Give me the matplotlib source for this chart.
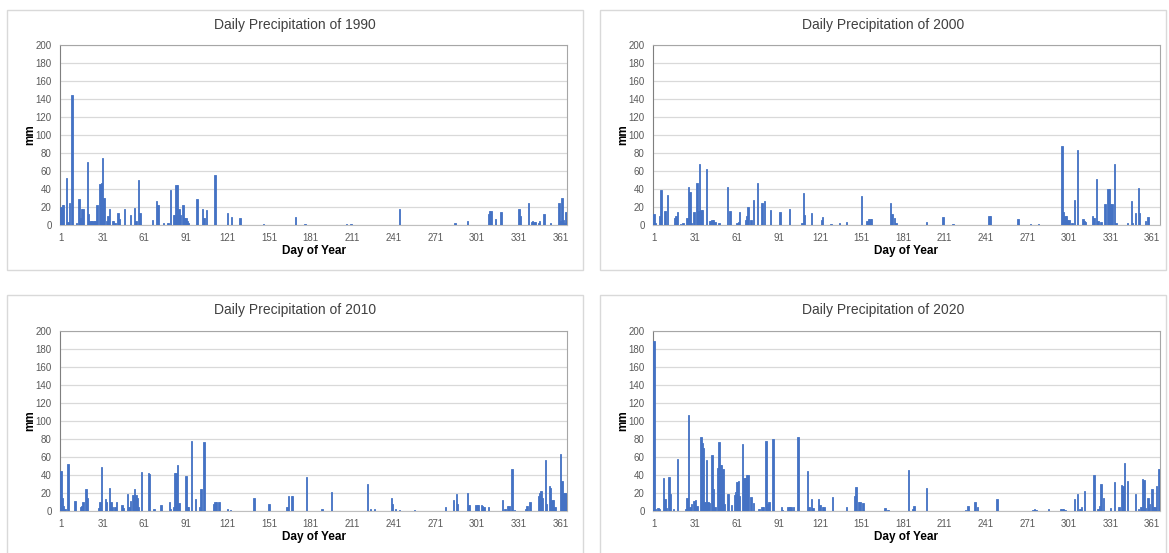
import numpy as np
import matplotlib
matplotlib.use('Agg')
from matplotlib import pyplot as plt
from matplotlib.patches import Rectangle

# daily precipitation (mm), days not listed are dry (0)
DAYS_1990 = [1,2,3,5,6,7,9,12,14,15,16,17,20,21,22,23,24,25,26,27,29,30,31,32,34,35,36,38,39,40,42,43,47,51,54,55,57,58,67,70,71,75,78,80,82,83,84,85,86,87,89,90,91,92,93,99,103,104,106,112,121,124,130,147,170,177,207,210,245,285,294,309,310,311,314,318,331,332,338,340,341,342,343,345,346,349,354,360,361,362,363,364,365]
MM_1990 = [20,22,22,52,3,25,144,2,29,8,18,18,70,12,5,4,4,4,4,22,46,47,74,30,5,10,18,5,4,2,13,7,18,11,19,5,50,13,6,27,22,2,2,39,11,11,45,45,18,11,22,8,8,4,2,29,18,8,17,56,13,9,8,1,9,1,1,1,18,2,5,12,16,16,7,14,18,10,24,3,4,3,3,2,4,12,2,24,4,30,6,2,14]

DAYS_2000 = [1,2,5,6,9,11,16,17,18,20,22,25,26,27,28,30,32,33,34,35,36,39,41,42,43,44,45,48,54,56,61,62,63,67,68,69,71,73,76,79,81,85,92,99,108,109,110,115,122,123,129,135,140,151,155,156,157,158,172,173,175,176,198,210,217,243,244,264,273,279,296,297,298,299,300,301,303,305,307,311,312,313,318,319,321,322,324,327,329,330,331,332,334,335,343,346,347,349,351,352,356,358]
MM_2000 = [12,2,10,39,16,33,8,10,14,1,2,8,42,37,2,15,47,16,68,17,17,62,4,5,6,6,3,2,42,16,2,3,14,6,10,20,6,28,47,25,27,17,14,18,2,36,11,13,6,9,1,2,3,32,5,7,7,7,25,12,8,2,3,9,1,10,10,7,1,1,88,14,10,10,6,6,2,28,83,7,5,3,10,8,51,4,3,23,40,40,23,23,68,2,2,27,2,13,41,13,4,9]

DAYS_2010 = [1,2,3,4,6,11,15,16,17,19,20,28,29,30,33,34,36,37,38,40,41,45,46,49,50,51,53,54,55,56,57,59,64,65,68,73,79,80,82,83,84,85,86,91,92,93,95,98,101,102,104,111,112,113,115,121,123,140,151,164,165,167,168,178,189,196,222,224,227,239,240,242,245,256,278,284,286,287,294,295,300,301,302,304,305,306,309,319,321,323,324,326,328,336,337,339,345,346,347,348,350,351,353,354,355,356,357,361,362,363,364,365]
MM_2010 = [45,14,6,2,52,11,4,6,10,25,14,3,10,49,13,10,26,10,4,5,10,7,3,19,4,11,18,25,18,15,4,43,42,41,2,7,10,2,4,42,42,51,9,39,5,5,78,13,4,24,77,8,10,10,10,2,1,15,8,5,17,17,17,38,2,21,30,2,2,15,8,2,1,1,4,12,19,8,20,7,7,7,7,7,6,5,5,12,2,6,6,47,1,2,6,10,17,20,22,15,57,8,28,26,12,12,4,63,33,20,20,20]

DAYS_2020 = [1,2,4,5,8,9,10,12,13,15,18,24,25,26,27,28,30,31,32,35,36,37,38,39,40,41,43,44,45,47,48,49,50,51,52,54,55,57,59,60,61,62,63,65,66,67,68,69,71,73,77,79,80,82,83,84,87,93,94,98,99,100,102,105,112,113,115,116,120,121,123,124,130,140,146,147,149,150,152,168,170,185,188,189,198,226,228,233,235,249,275,276,277,286,295,296,297,298,305,307,309,310,312,319,322,323,324,326,331,334,337,339,340,341,343,349,351,353,354,355,356,358,359,361,362,363,364,366]
MM_2020 = [189,2,3,2,37,13,3,38,19,2,58,2,14,107,4,8,11,12,6,82,76,70,10,57,10,9,62,24,5,48,77,51,51,47,8,19,19,7,18,21,32,33,17,75,37,37,40,40,16,9,2,4,5,78,8,10,80,4,1,4,5,5,4,82,44,5,13,3,13,7,5,5,16,5,17,27,10,10,9,3,1,46,2,6,26,1,6,10,5,13,1,2,1,2,2,2,2,1,13,19,2,4,22,40,2,6,30,15,3,32,4,29,28,53,33,19,2,4,36,35,3,14,8,25,4,4,28,47]

YEARS = ['1990', '2000', '2010', '2020']
N_DAYS = [365, 366, 365, 366]
DATA = [(DAYS_1990, MM_1990), (DAYS_2000, MM_2000), (DAYS_2010, MM_2010), (DAYS_2020, MM_2020)]

W, H = 1169, 553
fig = plt.figure(figsize=(W/100, H/100), dpi=100)
plt.rcParams['font.family'] = ['Liberation Sans', 'DejaVu Sans']

# chart boxes (px): left, top, right, bottom
BOXES = [(7, 10, 583, 270), (600, 10, 1166, 270), (7, 295, 583, 560), (600, 295, 1166, 560)]
# plot areas (px)
PLOTS = [(60, 45, 567, 225), (653, 45, 1160, 225), (60, 331, 567, 511), (653, 331, 1160, 511)]

BLUE = '#4472C4'

for i in range(4):
    bl, bt, br, bb = BOXES[i]
    fig.patches.append(Rectangle((bl/W, 1-bb/H), (br-bl)/W, (bb-bt)/H, transform=fig.transFigure,
                                 fill=False, edgecolor='#d9d9d9', linewidth=1.0))
    pl, pt, pr, pb = PLOTS[i]
    ax = fig.add_axes([pl/W, 1-pb/H, (pr-pl)/W, (pb-pt)/H])
    days, mm = DATA[i]
    vals = np.zeros(N_DAYS[i])
    vals[np.array(days)-1] = mm
    x = np.arange(1, N_DAYS[i]+1)
    ax.bar(x, vals, width=1.0, color=BLUE, edgecolor=BLUE, linewidth=0.6, zorder=3)
    ax.set_xlim(0.3, N_DAYS[i]+0.7)
    ax.set_ylim(0, 200)
    ax.set_yticks(range(0, 201, 20))
    ax.set_xticks(range(1, 362, 30))
    ax.grid(axis='y', color='#d9d9d9', linewidth=0.9, zorder=0)
    ax.tick_params(length=0, labelsize=7, colors='#595959', pad=6)
    for s in ['top', 'right']:
        ax.spines[s].set_color('#a6a6a6')
    ax.spines['left'].set_color('#7f7f7f')
    ax.spines['bottom'].set_color('#bfbfbf')
    cx = (bl+br)/2
    fig.text(cx/W, 1-(bt+15)/H, 'Daily Precipitation of ' + YEARS[i], ha='center', va='center',
             fontsize=10, color='#404040')
    fig.text((pl+pr)/2/W, 1-(pb+26)/H, 'Day of Year', ha='center', va='center',
             fontsize=8.5, fontweight='bold', color='#000000')
    fig.text((pl-30)/W, 1-(pt+pb)/2/H, 'mm', ha='center', va='center', rotation=90,
             fontsize=8.5, fontweight='bold', color='#000000')

plt.savefig('out.png', dpi=100)
